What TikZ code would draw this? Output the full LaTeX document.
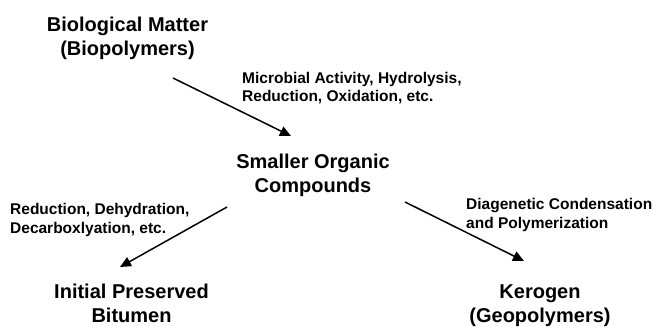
\documentclass[tikz,border=0pt]{standalone}
\usepackage{fontspec}
\setmainfont{Liberation Sans}
\usetikzlibrary{arrows.meta}
\begin{document}
\begin{tikzpicture}[x=1bp,y=-1bp,
  main/.style={font=\bfseries\fontsize{20bp}{24bp}\selectfont, align=center, inner sep=0},
  lab/.style={font=\bfseries\fontsize{15.5bp}{18.3bp}\selectfont, align=left, inner sep=0, anchor=west},
  arr/.style={line width=1.5bp, -{Triangle[length=11bp,width=10bp]}}]
\useasboundingbox (0,0) rectangle (653,326);
\node[main] (bio) at (127.5,37.9) {Biological Matter\\(Biopolymers)};
\node[main] (small) at (313,175.3) {Smaller Organic\\Compounds};
\node[main] (bit) at (131.5,303.8) {Initial Preserved\\Bitumen};
\node[main] (ker) at (540,306) {Kerogen\\(Geopolymers)};
\node[lab] (l1) at (242,88) {Microbial Activity, Hydrolysis,\\Reduction, Oxidation, etc.};
\node[lab] (l2) at (10,220) {Reduction, Dehydration,\\Decarboxlyation, etc.};
\node[lab] (l3) at (466,215) {Diagenetic Condensation\\and Polymerization};
\coordinate (a1s) at (173,78);
\coordinate (a1e) at (291,136);
\coordinate (a2s) at (227,207);
\coordinate (a2e) at (120,267);
\coordinate (a3s) at (405,202);
\coordinate (a3e) at (524,261);
\draw[arr] (a1s) -- (a1e);
\draw[arr] (a2s) -- (a2e);
\draw[arr] (a3s) -- (a3e);
\end{tikzpicture}
\end{document}
